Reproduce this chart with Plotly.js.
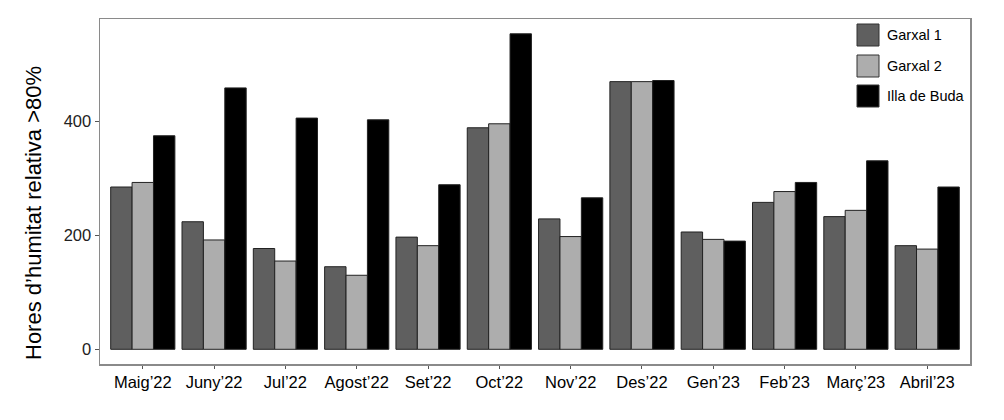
<!DOCTYPE html>
<html>
<head>
<meta charset="utf-8">
<script src="https://cdn.plot.ly/plotly-3.0.1.min.js"></script>
<style>html,body{margin:0;padding:0;background:#fff;}#chart{width:1004px;height:420px;}</style>
</head>
<body>
<div id="chart"></div>
<script>
const months = ["Maig’22","Juny’22","Jul’22","Agost’22","Set’22","Oct’22","Nov’22","Des’22","Gen’23","Feb’23","Març’23","Abril’23"];
const seriesNames = ["Garxal 1","Garxal 2","Illa de Buda"];
const garxal1 = [285, 224, 177, 145, 197, 389, 229, 470, 206, 258, 233, 182];
const garxal2 = [293, 192, 155, 130, 182, 396, 198, 470, 193, 277, 244, 176];
const illaBuda = [375, 459, 406, 403, 289, 554, 266, 472, 190, 293, 331, 285];
const colors = ["#5f5f5f", "#adadad", "#000000"];
const yTicks = [0, 200, 400];
const yTitle = "Hores d’humitat relativa >80%";

const values = [garxal1, garxal2, illaBuda];
const FONT = "Liberation Sans, Arial, sans-serif";

const traces = values.map((v, i) => ({
  type: "bar",
  name: seriesNames[i],
  x: months.map((_, k) => k),
  y: v,
  marker: {color: colors[i], line: {color: "#222222", width: 1}},
  showlegend: false,
  hoverinfo: "x+y+name"
}));

// Custom legend (large square keys like the reference)
const shapes = [];
const annotations = [];
const rowTopsPx = [24, 55, 85];
const plotL = 100, plotT = 19, plotW = 870, plotH = 345;
const px2x = p => (p - plotL) / plotW;
const py2y = p => (plotT + plotH - p) / plotH;
seriesNames.forEach((n, i) => {
  const t = rowTopsPx[i];
  shapes.push({type: "rect", xref: "paper", yref: "paper",
    x0: px2x(857), x1: px2x(879), y0: py2y(t + 22), y1: py2y(t),
    fillcolor: colors[i], line: {color: "#333333", width: 1}});
  annotations.push({xref: "paper", yref: "paper", x: px2x(885), y: py2y(t + 11),
    xanchor: "left", yanchor: "middle", showarrow: false, text: n,
    font: {family: FONT, size: 14.5, color: "#000"}});
});
annotations.push({xref: "paper", yref: "paper", x: px2x(33), y: py2y(213),
  xanchor: "center", yanchor: "middle", textangle: -90, showarrow: false,
  text: yTitle, font: {family: FONT, size: 22, color: "#000"}});

const layout = {
  width: 1004, height: 420,
  margin: {l: 100, r: 34, t: 19, b: 56, pad: 0},
  paper_bgcolor: "#fff", plot_bgcolor: "#fff",
  font: {family: FONT, color: "#000"},
  barmode: "group", bargap: 0.1, bargroupgap: 0,
  xaxis: {
    range: [-0.6, 11.6], tickmode: "array",
    tickvals: months.map((_, k) => k), ticktext: months,
    showgrid: false, zeroline: false,
    showline: true, mirror: true, linecolor: "#8a8a8a", linewidth: 1.5,
    ticks: "outside", ticklen: 3, tickcolor: "#555", tickwidth: 1,
    tickfont: {family: FONT, size: 16.5, color: "#000"}
  },
  yaxis: {
    range: [-25.8, 580], tickmode: "array", tickvals: yTicks,
    ticktext: yTicks.map(String),
    showgrid: false, zeroline: false,
    showline: true, mirror: true, linecolor: "#8a8a8a", linewidth: 1.5,
    ticks: "outside", ticklen: 4, tickcolor: "#555", tickwidth: 1,
    tickfont: {family: FONT, size: 16.5, color: "#222"}
  },
  shapes: shapes,
  annotations: annotations,
  showlegend: false
};

Plotly.newPlot("chart", traces, layout, {displayModeBar: false, staticPlot: true});
</script>
</body>
</html>
